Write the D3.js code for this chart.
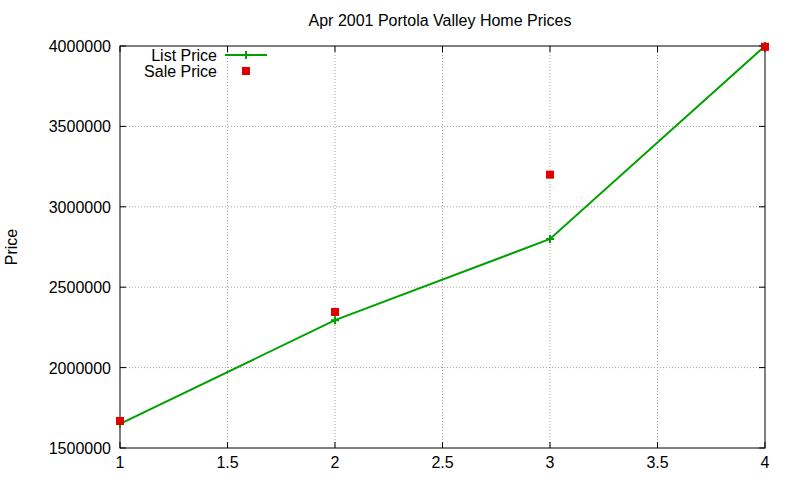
<!DOCTYPE html>
<html><head><meta charset="utf-8">
<script src="https://cdn.jsdelivr.net/npm/d3@7"></script>
<style>body{margin:0;background:#fff}text{font-family:"Liberation Sans",Arial,sans-serif;font-size:16px;fill:#000}</style>
</head><body><svg id="c" width="800" height="480"></svg>
<script>
const houses=[1,2,3,4];
const listPrice=[1650000,2295000,2800000,4000000];
const salePrice=[1668000,2346000,3200000,3995000];
const xTicks=[1,1.5,2,2.5,3,3.5,4];
const yTicks=[1500000,2000000,2500000,3000000,3500000,4000000];
const svg=d3.select("#c");
const L=120,R=765,T=46,B=448;
const x=d3.scaleLinear().domain([1,4]).range([L,R]);
const y=d3.scaleLinear().domain([1500000,4000000]).range([B,T]);
const g=svg.append("g");
xTicks.forEach(t=>{
  if(t>1&&t<4)g.append("line").attr("x1",x(t)).attr("x2",x(t)).attr("y1",T).attr("y2",B).attr("stroke","#a0a0a0").attr("stroke-dasharray","1,2");
  g.append("line").attr("x1",x(t)).attr("x2",x(t)).attr("y1",B).attr("y2",B-6).attr("stroke","#000");
  g.append("line").attr("x1",x(t)).attr("x2",x(t)).attr("y1",T).attr("y2",T+6).attr("stroke","#000");
  g.append("text").attr("x",x(t)).attr("y",B+20).attr("text-anchor","middle").text(t);
});
yTicks.forEach(t=>{
  if(t>1500000&&t<4000000)g.append("line").attr("x1",L).attr("x2",R).attr("y1",y(t)).attr("y2",y(t)).attr("stroke","#a0a0a0").attr("stroke-dasharray","1,2");
  g.append("line").attr("x1",L).attr("x2",L+6).attr("y1",y(t)).attr("y2",y(t)).attr("stroke","#000");
  g.append("line").attr("x1",R).attr("x2",R-6).attr("y1",y(t)).attr("y2",y(t)).attr("stroke","#000");
  g.append("text").attr("x",L-9).attr("y",y(t)+6).attr("text-anchor","end").text(t);
});
g.append("rect").attr("x",L).attr("y",T).attr("width",R-L).attr("height",B-T).attr("fill","none").attr("stroke","#000");
svg.append("text").attr("x",440).attr("y",26).attr("text-anchor","middle").text("Apr 2001 Portola Valley Home Prices");
svg.append("text").attr("transform","translate(17,247) rotate(-90)").attr("text-anchor","middle").text("Price");
const line=d3.line().x((d,i)=>x(houses[i])).y(d=>y(d));
svg.append("path").attr("d",line(listPrice)).attr("fill","none").attr("stroke","#00a000").attr("stroke-width",2);
const plus=(cx,cy)=>svg.append("path").attr("d",`M${cx-4},${cy}H${cx+4}M${cx},${cy-4}V${cy+4}`).attr("stroke","#00a000").attr("stroke-width",2);
listPrice.forEach((d,i)=>plus(x(houses[i]),y(d)));
salePrice.forEach((d,i)=>svg.append("rect").attr("x",x(houses[i])-4).attr("y",y(d)-4).attr("width",8).attr("height",8).attr("fill","#e00000"));
svg.append("text").attr("x",217).attr("y",61).attr("text-anchor","end").text("List Price");
svg.append("line").attr("x1",225).attr("x2",267).attr("y1",55).attr("y2",55).attr("stroke","#00a000").attr("stroke-width",2);
plus(246,55);
svg.append("text").attr("x",217).attr("y",77).attr("text-anchor","end").text("Sale Price");
svg.append("rect").attr("x",242).attr("y",67).attr("width",8).attr("height",8).attr("fill","#e00000");
</script></body></html>
